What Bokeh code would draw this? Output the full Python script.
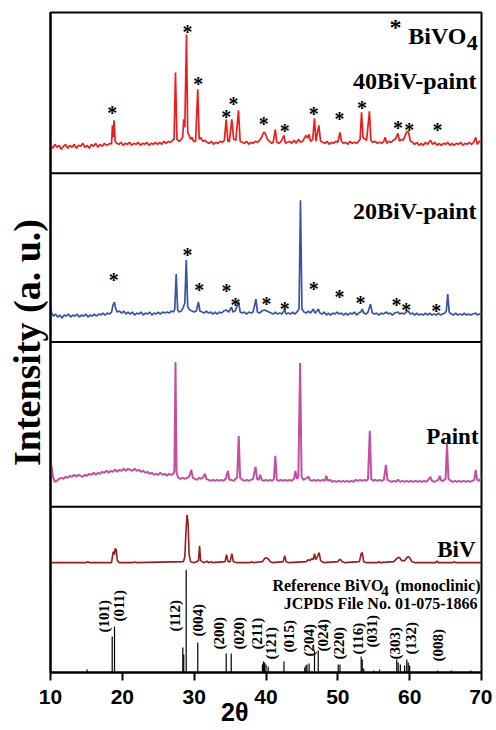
from bokeh.plotting import figure
from bokeh.models import Span, FixedTicker, Range1d
from bokeh.embed import file_html
from bokeh.resources import INLINE
from bokeh.core.properties import value
import math

# ---------------- data (2theta, intensity a.u. above panel baseline) ----------------
trace_40biv_paint = [
    (10.0, 2), (10.3, -1), (10.6, 3), (10.9, 0), (11.2, 2), (11.5, -2), (11.8, 1), (12.1, 3), (12.4, -1),
    (12.7, 2), (13.0, 0), (13.3, 3), (13.6, -1), (13.9, 2), (14.2, 1), (14.5, 4), (14.8, 0), (15.1, 2),
    (15.4, -1), (15.7, 3), (16.0, 1), (16.3, 4), (16.6, 0), (16.9, 3), (17.2, 1), (17.5, 4), (17.8, 2),
    (18.1, 3), (18.4, 4), (18.5, 3), (18.62, 22), (18.72, 10), (18.85, 27), (19.0, 6), (19.2, 4), (19.5, 3),
    (19.8, 5), (20.1, 2), (20.4, 4), (20.7, 3), (21.0, 5), (21.3, 2), (21.6, 4), (21.9, 3), (22.2, 5),
    (22.5, 2), (22.8, 4), (23.1, 3), (23.4, 5), (23.7, 2), (24.0, 4), (24.3, 3), (24.6, 5), (24.9, 3),
    (25.2, 5), (25.5, 3), (25.8, 6), (26.1, 4), (26.4, 6), (26.7, 5), (27.0, 7), (27.2, 8), (27.4, 75),
    (27.6, 8), (27.9, 6), (28.2, 8), (28.4, 10), (28.55, 28), (28.7, 20), (28.93, 113), (29.1, 15),
    (29.3, 12), (29.5, 8), (29.7, 10), (29.9, 6), (30.2, 6), (30.5, 58), (30.7, 8), (30.9, 10), (31.2, 6),
    (31.5, 7), (31.8, 5), (32.1, 4), (32.4, 6), (32.7, 3), (33.0, 5), (33.3, 4), (33.6, 6), (33.9, 5),
    (34.2, 7), (34.46, 28), (34.7, 6), (34.9, 6), (35.24, 28), (35.5, 8), (35.8, 7), (36.17, 37), (36.4, 6),
    (36.7, 5), (37.0, 4), (37.3, 6), (37.6, 3), (37.9, 5), (38.2, 4), (38.5, 6), (38.8, 5), (39.1, 7),
    (39.4, 10), (39.6, 14), (39.8, 15), (40.0, 12), (40.2, 8), (40.5, 6), (40.8, 4), (41.0, 5), (41.3, 18),
    (41.5, 5), (41.8, 4), (42.1, 6), (42.5, 12), (42.7, 4), (43.0, 5), (43.3, 6), (43.6, 4), (43.9, 7),
    (44.2, 4), (44.5, 8), (44.8, 5), (45.1, 6), (45.4, 10), (45.6, 12), (45.8, 9), (46.0, 13), (46.2, 6),
    (46.5, 8), (46.75, 29), (46.95, 6), (47.35, 22), (47.6, 6), (47.9, 5), (48.2, 4), (48.5, 6), (48.8, 3),
    (49.1, 5), (49.4, 4), (49.7, 6), (50.0, 5), (50.3, 15), (50.5, 6), (50.8, 4), (51.1, 5), (51.4, 3),
    (51.7, 6), (52.0, 4), (52.3, 5), (52.6, 4), (52.9, 6), (53.1, 8), (53.3, 35), (53.5, 10), (53.8, 8),
    (54.0, 7), (54.4, 36), (54.6, 7), (54.9, 5), (55.2, 6), (55.5, 4), (55.8, 5), (56.1, 4), (56.4, 6),
    (56.6, 10), (56.8, 4), (57.1, 6), (57.4, 5), (57.7, 7), (58.0, 8), (58.36, 14), (58.6, 6), (58.8, 8),
    (59.1, 7), (59.5, 14), (59.66, 16), (59.85, 15), (60.1, 6), (60.4, 5), (60.7, 3), (61.0, 5), (61.3, 2),
    (61.6, 4), (61.9, 2), (62.2, 5), (62.5, 3), (62.9, 7), (63.2, 3), (63.5, 5), (63.8, 2), (64.1, 4),
    (64.4, 2), (64.7, 4), (65.0, 3), (65.3, 5), (65.6, 2), (65.9, 4), (66.2, 2), (66.5, 4), (66.8, 3),
    (67.1, 5), (67.4, 2), (67.7, 4), (68.0, 3), (68.3, 5), (68.6, 3), (68.9, 5), (69.2, 10), (69.4, 3),
    (69.7, 6), (70.0, 5),
]

trace_20biv_paint = [
    (10.0, 12), (10.15, 4), (10.4, 1), (10.7, 3), (11.0, 0), (11.3, 2), (11.6, -1), (11.9, 2), (12.2, 1),
    (12.5, 3), (12.8, 0), (13.1, 2), (13.4, 1), (13.7, 3), (14.0, 0), (14.3, 2), (14.6, 1), (14.9, 3),
    (15.2, 0), (15.5, 2), (15.8, 1), (16.1, 3), (16.4, 1), (16.7, 3), (17.0, 2), (17.3, 4), (17.6, 2),
    (17.9, 4), (18.2, 3), (18.5, 5), (18.7, 12), (18.9, 15), (19.1, 8), (19.3, 5), (19.6, 6), (19.9, 4),
    (20.2, 6), (20.5, 3), (20.8, 5), (21.1, 3), (21.4, 5), (21.7, 2), (22.0, 4), (22.3, 3), (22.6, 5),
    (22.9, 2), (23.2, 4), (23.5, 3), (23.8, 5), (24.1, 2), (24.4, 4), (24.7, 3), (25.0, 5), (25.3, 3),
    (25.6, 5), (25.9, 4), (26.2, 5), (26.5, 4), (26.8, 6), (27.1, 5), (27.3, 8), (27.5, 43), (27.7, 7),
    (27.9, 5), (28.2, 6), (28.5, 10), (28.7, 14), (28.9, 57), (29.1, 10), (29.4, 7), (29.7, 6), (30.0, 5),
    (30.3, 6), (30.6, 15), (30.8, 6), (31.1, 5), (31.4, 4), (31.7, 6), (32.0, 4), (32.3, 5), (32.6, 3),
    (32.9, 5), (33.2, 3), (33.5, 5), (33.8, 4), (34.1, 6), (34.5, 7), (34.8, 5), (35.2, 10), (35.4, 5),
    (35.7, 6), (36.2, 15), (36.4, 5), (36.7, 4), (37.0, 5), (37.3, 3), (37.6, 5), (37.9, 4), (38.2, 5),
    (38.6, 18), (38.8, 5), (39.1, 4), (39.4, 6), (39.8, 7), (40.1, 6), (40.4, 5), (40.7, 4), (41.0, 3),
    (41.3, 5), (41.6, 3), (41.9, 4), (42.2, 3), (42.6, 7), (42.8, 3), (43.1, 4), (43.4, 3), (43.7, 5),
    (44.0, 3), (44.3, 5), (44.6, 8), (44.8, 117), (45.0, 8), (45.3, 5), (45.6, 4), (45.9, 6), (46.2, 4),
    (46.6, 8), (46.8, 4), (47.0, 5), (47.3, 8), (47.5, 4), (47.8, 3), (48.1, 5), (48.4, 2), (48.7, 4),
    (49.0, 2), (49.3, 4), (49.6, 3), (49.9, 5), (50.2, 3), (50.5, 4), (50.8, 2), (51.1, 4), (51.4, 2),
    (51.7, 4), (52.0, 3), (52.3, 5), (52.6, 2), (52.9, 4), (53.2, 5), (53.4, 8), (53.6, 4), (53.9, 3),
    (54.2, 5), (54.55, 13), (54.8, 4), (55.1, 3), (55.4, 4), (55.7, 2), (56.0, 4), (56.3, 3), (56.8, 5),
    (57.0, 3), (57.3, 4), (57.6, 2), (57.9, 4), (58.4, 5), (58.6, 3), (58.9, 4), (59.2, 3), (59.5, 5),
    (59.8, 6), (60.1, 3), (60.4, 4), (60.7, 2), (61.0, 4), (61.3, 2), (61.6, 3), (61.9, 2), (62.2, 4),
    (62.5, 2), (62.8, 4), (63.1, 2), (63.4, 3), (63.7, 2), (64.0, 4), (64.3, 2), (64.6, 3), (64.9, 4),
    (65.1, 6), (65.3, 23), (65.5, 5), (65.8, 3), (66.1, 2), (66.4, 4), (66.7, 2), (67.0, 3), (67.3, 2),
    (67.6, 4), (67.9, 2), (68.2, 3), (68.5, 2), (68.8, 3), (69.2, 4), (69.4, 2), (69.7, 3), (70.0, 2),
]

trace_paint = [
    (10.0, 22), (10.15, 16), (10.35, 6), (10.6, 1), (10.9, 2), (11.2, 4), (11.5, 5), (11.8, 4), (12.1, 6),
    (12.4, 5), (12.7, 7), (13.0, 6), (13.3, 8), (13.6, 6), (13.9, 8), (14.2, 7), (14.5, 6), (14.8, 8),
    (15.1, 7), (15.4, 9), (15.7, 8), (16.0, 10), (16.3, 8), (16.6, 10), (16.9, 9), (17.2, 11), (17.5, 10),
    (17.8, 12), (18.1, 10), (18.4, 12), (18.7, 11), (19.0, 13), (19.3, 11), (19.6, 13), (19.9, 12),
    (20.2, 14), (20.5, 12), (20.8, 14), (21.1, 13), (21.4, 12), (21.7, 14), (22.0, 12), (22.3, 13),
    (22.6, 11), (22.9, 12), (23.2, 10), (23.5, 11), (23.8, 9), (24.1, 10), (24.4, 8), (24.7, 9), (25.0, 8),
    (25.3, 10), (25.6, 8), (25.9, 9), (26.2, 7), (26.5, 9), (26.8, 8), (27.1, 9), (27.25, 12), (27.4, 121),
    (27.55, 10), (27.8, 5), (28.1, 4), (28.4, 5), (28.7, 4), (29.0, 5), (29.3, 6), (29.6, 13), (29.8, 5),
    (30.1, 4), (30.4, 3), (30.7, 5), (31.0, 4), (31.3, 6), (31.5, 9), (31.7, 4), (32.0, 3), (32.3, 2),
    (32.6, 3), (32.9, 2), (33.2, 3), (33.5, 2), (33.8, 3), (34.1, 2), (34.4, 4), (34.7, 12), (34.9, 3),
    (35.2, 3), (35.5, 2), (35.8, 4), (36.0, 6), (36.2, 47), (36.4, 5), (36.7, 3), (37.0, 2), (37.3, 3),
    (37.6, 2), (37.9, 3), (38.2, 4), (38.55, 16), (38.75, 4), (39.0, 3), (39.2, 8), (39.4, 3), (39.7, 2),
    (40.0, 3), (40.3, 2), (40.6, 3), (40.9, 2), (41.1, 4), (41.3, 27), (41.5, 3), (41.8, 2), (42.1, 3),
    (42.4, 2), (42.7, 3), (43.0, 2), (43.3, 3), (43.6, 2), (43.9, 4), (44.1, 12), (44.3, 4), (44.5, 6),
    (44.75, 120), (44.95, 6), (45.2, 3), (45.5, 4), (45.9, 6), (46.1, 3), (46.4, 2), (46.7, 3), (47.0, 2),
    (47.3, 3), (47.6, 2), (47.9, 3), (48.2, 2), (48.4, 7), (48.6, 2), (48.9, 3), (49.2, 1), (49.5, 2),
    (49.8, 1), (50.1, 2), (50.4, 1), (50.7, 2), (51.0, 1), (51.3, 2), (51.6, 1), (51.9, 2), (52.2, 1),
    (52.5, 3), (52.8, 2), (53.1, 3), (53.4, 2), (53.7, 3), (54.0, 2), (54.2, 4), (54.45, 52), (54.65, 4),
    (54.9, 2), (55.2, 3), (55.5, 2), (55.8, 3), (56.1, 2), (56.4, 3), (56.7, 18), (56.9, 3), (57.2, 2),
    (57.5, 1), (57.8, 2), (58.1, 1), (58.4, 3), (58.7, 1), (59.0, 2), (59.3, 1), (59.6, 2), (59.9, 1),
    (60.2, 2), (60.5, 1), (60.8, 2), (61.1, 1), (61.4, 2), (61.7, 1), (62.0, 2), (62.3, 1), (62.6, 3),
    (62.9, 6), (63.1, 2), (63.4, 1), (63.7, 2), (64.0, 3), (64.2, 7), (64.4, 2), (64.7, 2), (65.0, 4),
    (65.2, 39), (65.4, 4), (65.7, 2), (66.0, 1), (66.3, 2), (66.6, 1), (66.9, 2), (67.2, 1), (67.5, 2),
    (67.8, 1), (68.1, 2), (68.4, 1), (68.7, 2), (69.0, 3), (69.2, 13), (69.4, 3), (69.7, 2), (70.0, 6),
]

trace_biv = [
    (10.0, 0), (15.0, 0), (15.2, 1), (15.4, 0), (18.5, 0), (18.7, 10), (18.8, 11), (18.9, 8), (19.0, 14),
    (19.15, 13), (19.3, 2), (19.6, 0), (21.5, 0), (21.7, 0.8), (21.9, 0), (28.5, 1), (28.7, 6), (28.85, 30),
    (29.0, 48), (29.15, 40), (29.3, 8), (29.5, 1), (30.0, 0), (30.6, 2), (30.75, 17), (30.9, 2), (31.3, 0),
    (31.8, 1.5), (32.0, 0), (32.4, 1), (32.6, 0), (34.3, 1), (34.5, 8), (34.7, 1), (35.0, 1), (35.25, 9),
    (35.45, 1), (36.0, 0), (37.8, 0), (38.0, 1), (38.2, 0), (39.5, 1), (39.8, 4), (40.0, 5), (40.3, 4),
    (40.6, 1), (41.0, 0), (42.4, 1), (42.6, 7), (42.8, 1), (43.2, 0), (45.6, 1), (45.9, 3), (46.1, 2),
    (46.4, 4), (46.6, 3), (46.75, 9), (46.95, 3), (47.1, 5), (47.4, 10), (47.6, 2), (48.0, 0), (50.0, 1),
    (50.2, 3), (50.4, 3), (50.6, 1), (51.0, 0), (53.0, 1), (53.25, 9), (53.4, 10), (53.6, 1), (54.0, 0),
    (55.5, 0), (55.7, 1), (55.9, 0), (57.8, 1), (58.2, 4), (58.4, 5), (58.6, 5), (58.9, 2), (59.3, 2),
    (59.6, 5), (59.8, 6), (60.0, 5), (60.3, 1), (60.8, 0), (63.6, 0), (63.8, 1.5), (64.0, 0), (66.0, 0),
    (66.2, 1), (66.4, 0), (70.0, 0),
]

# reference stick pattern (JCPDS 01-075-1866)
ref_pos = [15.1, 18.59, 18.91, 28.42, 28.55, 28.89, 30.5, 34.46, 35.16, 39.5, 39.65, 39.8, 40.0, 40.3,
           42.5, 45.4, 45.55, 45.7, 46.0, 46.75, 47.27, 50.05, 50.3, 53.25, 53.4, 53.6, 55.0, 55.8,
           58.2, 58.4, 58.7, 59.3, 59.6, 59.8, 60.0, 63.9, 65.8, 68.5]
ref_int = [3, 36, 46, 25, 18, 103, 30, 19, 19, 8, 11, 10, 8, 6,
           11, 5, 7, 8, 9, 22, 22, 8, 8, 16, 13, 4, 2, 3,
           13, 10, 8, 7, 13, 10, 7, 2, 2, 2]

hkl_labels = ["(101)", "(011)", "(112)", "(004)", "(200)", "(020)", "(211)", "(121)", "(015)",
              "(204)", "(024)", "(220)", "(116)", "(031)", "(303)", "(132)", "(008)"]
hkl_x = [17.42, 19.6, 27.4, 30.5, 33.43, 36.2, 38.68, 40.63, 43.18, 45.96, 47.96, 50.14, 52.78,
         54.69, 57.89, 60.21, 63.92]

# BiVO4 peak markers (*)
star40_x = [18.58, 29.07, 30.56, 34.46, 35.48, 39.70, 42.60, 46.66, 50.24, 53.35, 58.36, 59.93, 63.87]
star40_h = [38, 119, 67, 34, 47, 27, 20, 37, 32, 43, 23, 21, 21]
star20_x = [18.82, 29.07, 30.70, 34.50, 35.75, 40.07, 42.60, 46.66, 50.24, 53.16, 58.17, 59.52, 63.69]
star20_h = [41, 66, 31, 30, 16, 17, 12, 32, 24, 18, 16, 11, 10]

x_ticks = [10, 20, 30, 40, 50, 60, 70]

# ---------------- layout constants ----------------
OFF_40, OFF_20, OFF_PAINT, OFF_BIV, OFF_REF = 526, 356, 190, 110, 0
SEPARATORS = [166, 331, 500]
Y_TOP = 661
HKL_Y = [40, 51, 41, 36, 23, 23, 23, 13, 20, 16, 21, 13, 18, 25, 13, 18, 11]
SERIF = "Liberation Serif"
SANS = "Liberation Sans"
NBSP = "\u00a0"

p = figure(width=492, height=728, output_backend="svg", toolbar_location=None,
           x_range=Range1d(10, 70), y_range=Range1d(0, Y_TOP),
           min_border_left=50, min_border_right=11, min_border_top=12, min_border_bottom=55)
p.grid.visible = False
p.outline_line_color = "black"
p.outline_line_width = 2
p.background_fill_color = "white"
p.border_fill_color = "white"

# x axis
xa = p.xaxis[0]
xa.ticker = FixedTicker(ticks=x_ticks)
xa.axis_line_width = 2
xa.major_tick_line_width = 2
xa.major_tick_in = 0
xa.major_tick_out = 8
xa.minor_tick_line_color = None
xa.major_label_text_font = SANS
xa.major_label_text_font_style = "bold"
xa.major_label_text_font_size = "21px"
xa.major_label_text_color = "black"
xa.major_label_standoff = 9
# title sits left of centre in the original: pad with trailing no-break spaces
xa.axis_label = "2θ" + NBSP * 9
xa.axis_label_text_font = SANS
xa.axis_label_text_font_style = "bold"
xa.axis_label_text_font_size = "25px"
xa.axis_label_text_color = "black"
xa.axis_label_standoff = -9

# y axis
ya = p.yaxis[0]
ya.ticker = FixedTicker(ticks=[])
ya.axis_line_width = 2
ya.major_tick_line_color = None
ya.minor_tick_line_color = None
ya.major_label_text_font_size = "0px"
ya.axis_label = "Intensity (a. u.)"
ya.axis_label_text_font = SERIF
ya.axis_label_text_font_style = "bold"
ya.axis_label_text_font_size = "38px"
ya.axis_label_text_color = "black"
ya.axis_label_standoff = 3

for s in SEPARATORS:
    p.add_layout(Span(location=s, dimension="width", line_color="black", line_width=2))

def draw_trace(data, offset, color, lw):
    xs = [d[0] for d in data]
    ys = [d[1] + offset for d in data]
    p.line(xs, ys, line_color=color, line_width=lw)

draw_trace(trace_40biv_paint, OFF_40, "#ee1d1d", 1.7)
draw_trace(trace_20biv_paint, OFF_20, "#3553a8", 1.7)
draw_trace(trace_paint, OFF_PAINT, "#c24fa3", 2.0)
draw_trace(trace_biv, OFF_BIV, "#9b1b1b", 1.6)

p.segment(x0=ref_pos, y0=[OFF_REF] * len(ref_pos), x1=ref_pos, y1=[OFF_REF + v for v in ref_int],
          line_color="black", line_width=1.2)

# asterisks
p.text(x=star40_x, y=[OFF_40 + h for h in star40_h], text=["*"] * len(star40_x),
       text_font=value(SERIF), text_font_style="bold", text_font_size="20px",
       text_align="center", text_baseline="middle", y_offset=4, text_color="black")
p.text(x=star20_x, y=[OFF_20 + h for h in star20_h], text=["*"] * len(star20_x),
       text_font=value(SERIF), text_font_style="bold", text_font_size="20px",
       text_align="center", text_baseline="middle", y_offset=4, text_color="black")

# hkl labels (rotated)
p.text(x=hkl_x, y=[OFF_REF + yy for yy in HKL_Y],
       text=hkl_labels, angle=math.pi / 2, text_font=value(SERIF), text_font_style="bold",
       text_font_size="15px", text_align="left", text_baseline="middle", text_color="black")

def label(x, y, txt, size, align="right", baseline="alphabetic", yoff=0):
    p.text(x=[x], y=[y], text=[txt], text_font=value(SERIF), text_font_style="bold",
           text_font_size=size, text_align=align, text_baseline=baseline, text_color="black",
           y_offset=yoff)

label(58.03, 650, "*", "24px", align="center", baseline="middle", yoff=4)
label(59.80, 637, "BiVO", "24px", align="left")
label(67.95, 630, "4", "22px", align="left")
label(69.31, 592, "40BiV-paint", "24px")
label(69.31, 462, "20BiV-paint", "24px")
label(69.59, 236, "Paint", "23px")
label(69.17, 123, "BiV", "23px")
label(40.90, 87, "Reference BiVO", "16px", align="left")
label(56.05, 82, "4", "15px", align="left")
label(69.86, 87, "(monoclinic)", "16px")
label(69.45, 69, "JCPDS File No. 01-075-1866", "16px")

open("out.html", "w").write(file_html(p, INLINE))
